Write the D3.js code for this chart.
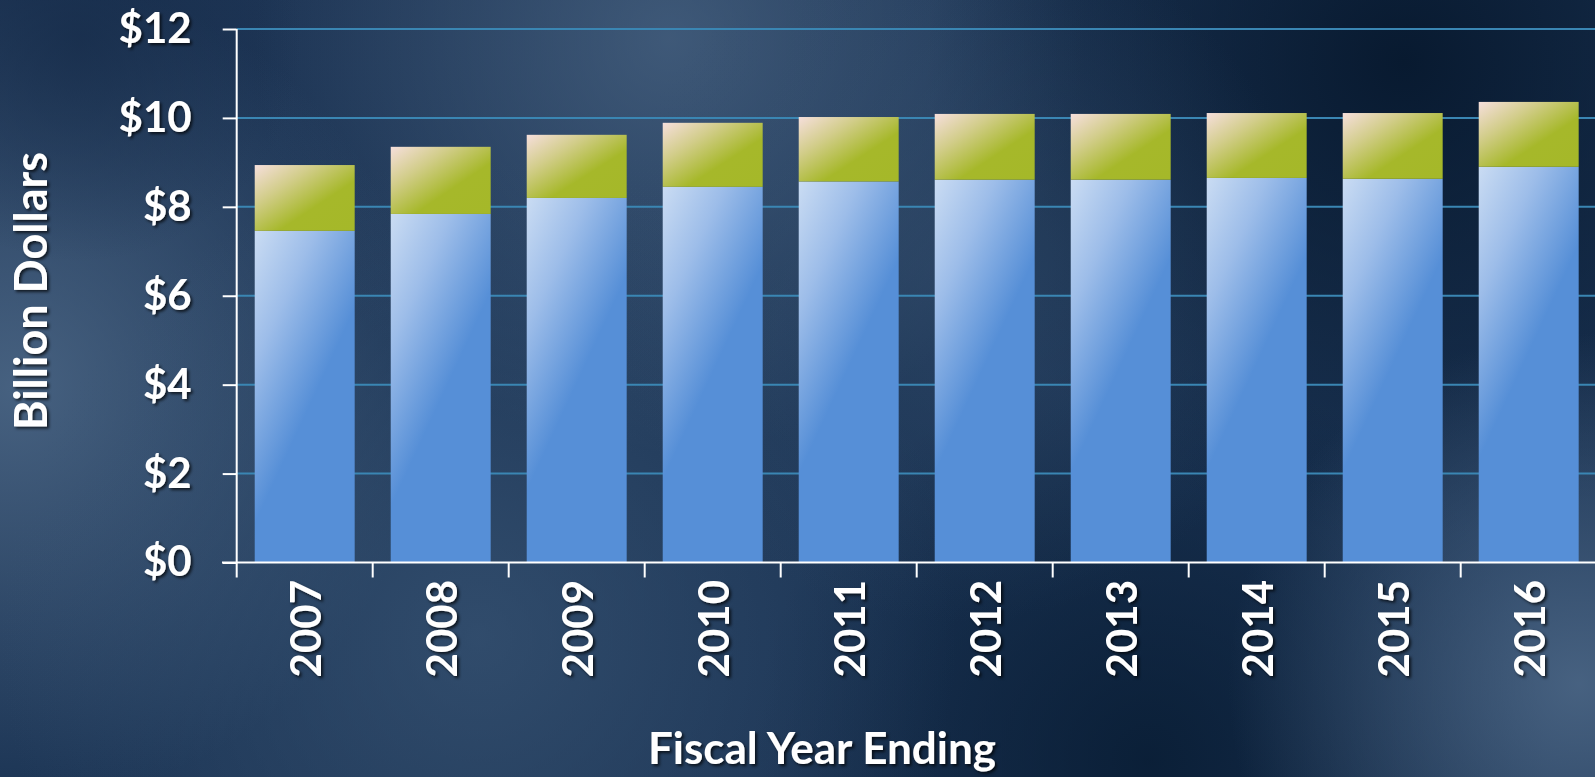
<!DOCTYPE html>
<meta charset="utf-8">
<style>
html, body { margin: 0; padding: 0; background: #1f3857; overflow: hidden; }
text { font-family: Lato, "Open Sans", sans-serif; font-weight: bold; fill: #fff; }
</style>
<body>
<div id="chart"></div>
<script src="https://cdn.jsdelivr.net/npm/d3@7"></script>
<script>
var width = 1595, height = 777;

// data (billions of dollars)
var years = ["2007", "2008", "2009", "2010", "2011", "2012", "2013", "2014", "2015", "2016"];
var baseValues = [7.46, 7.84, 8.20, 8.45, 8.57, 8.61, 8.61, 8.65, 8.63, 8.90];
var extraValues = [1.48, 1.51, 1.42, 1.44, 1.45, 1.48, 1.48, 1.46, 1.48, 1.46];
var yTicks = [0, 2, 4, 6, 8, 10, 12];

var svg = d3.select("#chart").append("svg")
    .attr("width", width)
    .attr("height", height);

var defs = svg.append("defs");

// background: dark blue with some cloudy lighter patches
var bg = defs.append("linearGradient").attr("id", "bgLin")
    .attr("x1", 0).attr("y1", 0).attr("x2", 1).attr("y2", 1);
bg.append("stop").attr("offset", 0).attr("stop-color", "#1e3555");
bg.append("stop").attr("offset", 0.5).attr("stop-color", "#1b3454");
bg.append("stop").attr("offset", 1).attr("stop-color", "#183050");

var blobs = [
  {id: "b1", cx: 0.01, cy: 0.50, r: 0.26, c: "#4b6685", o: 0.9},
  {id: "b2", cx: 0.42, cy: 0.05, r: 0.26, c: "#4a6584", o: 0.75},
  {id: "b3", cx: 0.88, cy: 0.08, r: 0.30, c: "#06172c", o: 0.9},
  {id: "b4", cx: 0.72, cy: 0.98, r: 0.25, c: "#081c33", o: 0.85},
  {id: "b5", cx: 0.99, cy: 0.88, r: 0.22, c: "#4f6a89", o: 0.85},
  {id: "b6", cx: 0.30, cy: 0.82, r: 0.30, c: "#3a5676", o: 0.7},
  {id: "b7", cx: 0.60, cy: 0.35, r: 0.22, c: "#36506f", o: 0.5},
  {id: "b8", cx: 0.05, cy: 0.05, r: 0.14, c: "#152b49", o: 0.7}
];
blobs.forEach(function(b) {
  var g = defs.append("radialGradient").attr("id", b.id)
      .attr("gradientUnits", "userSpaceOnUse")
      .attr("cx", b.cx * width).attr("cy", b.cy * height).attr("r", b.r * width);
  g.append("stop").attr("offset", 0).attr("stop-color", b.c).attr("stop-opacity", b.o);
  g.append("stop").attr("offset", 1).attr("stop-color", b.c).attr("stop-opacity", 0);
});

svg.append("rect").attr("width", width).attr("height", height).attr("fill", "url(#bgLin)");
blobs.forEach(function(b) {
  svg.append("rect").attr("width", width).attr("height", height).attr("fill", "url(#" + b.id + ")");
});

// bar gradients
var green = defs.append("linearGradient").attr("id", "greenGrad")
    .attr("x1", 0).attr("y1", 0).attr("x2", 1).attr("y2", 1);
green.append("stop").attr("offset", 0).attr("stop-color", "#f6dfdc");
green.append("stop").attr("offset", 0.3).attr("stop-color", "#d2cd8a");
green.append("stop").attr("offset", 0.62).attr("stop-color", "#a6b82a");
green.append("stop").attr("offset", 1).attr("stop-color", "#a5b829");

var shadow = defs.append("filter").attr("id", "shadow")
    .attr("x", "-10%").attr("y", "-10%").attr("width", "130%").attr("height", "130%");
shadow.append("feDropShadow")
    .attr("dx", 2).attr("dy", 2).attr("stdDeviation", 1.5)
    .attr("flood-color", "#000").attr("flood-opacity", 0.7);

var x = d3.scaleBand()
    .domain(years)
    .range([236.7, 1596.7])
    .paddingInner(0.265)
    .paddingOuter(0.1325);

var y = d3.scaleLinear()
    .domain([0, 12])
    .range([562.5, 29]);

// gridlines
svg.append("g")
  .selectAll("line")
  .data(yTicks.slice(1))
  .enter().append("line")
    .attr("x1", 237).attr("x2", width)
    .attr("y1", function(d) { return y(d); })
    .attr("y2", function(d) { return y(d); })
    .attr("stroke", "#3a86b3")
    .attr("stroke-width", 2);

var rows = years.map(function(yr, i) { return {year: yr, base: baseValues[i], extra: extraValues[i]}; });
var series = d3.stack().keys(["base", "extra"])(rows);

// blue gradient for each bar, fixed angle in page space
rows.forEach(function(d, i) {
  var x0 = x(d.year), y0 = y(d.base);
  var gr = defs.append("linearGradient").attr("id", "blue" + i)
      .attr("gradientUnits", "userSpaceOnUse")
      .attr("x1", x0).attr("y1", y0)
      .attr("x2", x0 + 112).attr("y2", y0 + 52);
  gr.append("stop").attr("offset", 0).attr("stop-color", "#cadcf3");
  gr.append("stop").attr("offset", 0.45).attr("stop-color", "#9dbde9");
  gr.append("stop").attr("offset", 1).attr("stop-color", "#568fd7");
});

svg.append("g")
  .selectAll("rect")
  .data(series[0])
  .enter().append("rect")
    .attr("x", function(d) { return x(d.data.year); })
    .attr("y", function(d) { return y(d[1]); })
    .attr("width", x.bandwidth())
    .attr("height", function(d) { return y(d[0]) - y(d[1]); })
    .attr("fill", function(d, i) { return "url(#blue" + i + ")"; });

svg.append("g")
  .selectAll("rect")
  .data(series[1])
  .enter().append("rect")
    .attr("x", function(d) { return x(d.data.year); })
    .attr("y", function(d) { return y(d[1]); })
    .attr("width", x.bandwidth())
    .attr("height", function(d) { return y(d[0]) - y(d[1]); })
    .attr("fill", "url(#greenGrad)");

// y axis
var yAxis = svg.append("g")
    .attr("transform", "translate(236.7,0)")
    .call(d3.axisLeft(y)
      .tickValues(yTicks)
      .tickSize(14)
      .tickPadding(31)
      .tickFormat(function(d) { return "$" + d; }));
yAxis.select(".domain").attr("stroke", "#fff").attr("stroke-width", 2).attr("d", "M0,29V562.5");
yAxis.selectAll(".tick line").attr("stroke", "#fff").attr("stroke-width", 2);
yAxis.selectAll(".tick text")
    .attr("fill", "#fff")
    .attr("filter", "url(#shadow)")
    .style("font-family", "Lato, sans-serif")
    .style("font-weight", "bold")
    .style("font-size", "42px");

// x axis: line, boundary ticks, rotated year labels
var gap = (x.step() - x.bandwidth()) / 2;
var xAxis = svg.append("g");
xAxis.append("line")
    .attr("x1", 222).attr("x2", width)
    .attr("y1", y(0)).attr("y2", y(0))
    .attr("stroke", "#fff").attr("stroke-width", 2);
xAxis.selectAll(".xt")
  .data(years)
  .enter().append("line")
    .attr("class", "xt")
    .attr("x1", function(d) { return x(d) - gap; })
    .attr("x2", function(d) { return x(d) - gap; })
    .attr("y1", y(0)).attr("y2", y(0) + 15)
    .attr("stroke", "#fff").attr("stroke-width", 2);

var labels = svg.append("g").attr("filter", "url(#shadow)");
labels.selectAll(".yr")
  .data(years)
  .enter().append("text")
    .attr("class", "yr")
    .attr("transform", function(d) {
      return "translate(" + (x(d) + x.bandwidth() / 2 + 1) + ",580) rotate(-90)";
    })
    .attr("text-anchor", "end")
    .attr("dy", "0.36em")
    .style("font-size", "42px")
    .text(function(d) { return d; });

labels.append("text")
    .attr("transform", "translate(31,291) rotate(-90)")
    .attr("text-anchor", "middle")
    .attr("dy", "0.36em")
    .style("font-size", "45px")
    .text("Billion Dollars");

labels.append("text")
    .attr("x", 822)
    .attr("y", 764)
    .attr("text-anchor", "middle")
    .style("font-size", "44px")
    .text("Fiscal Year Ending");
</script>
</body>
